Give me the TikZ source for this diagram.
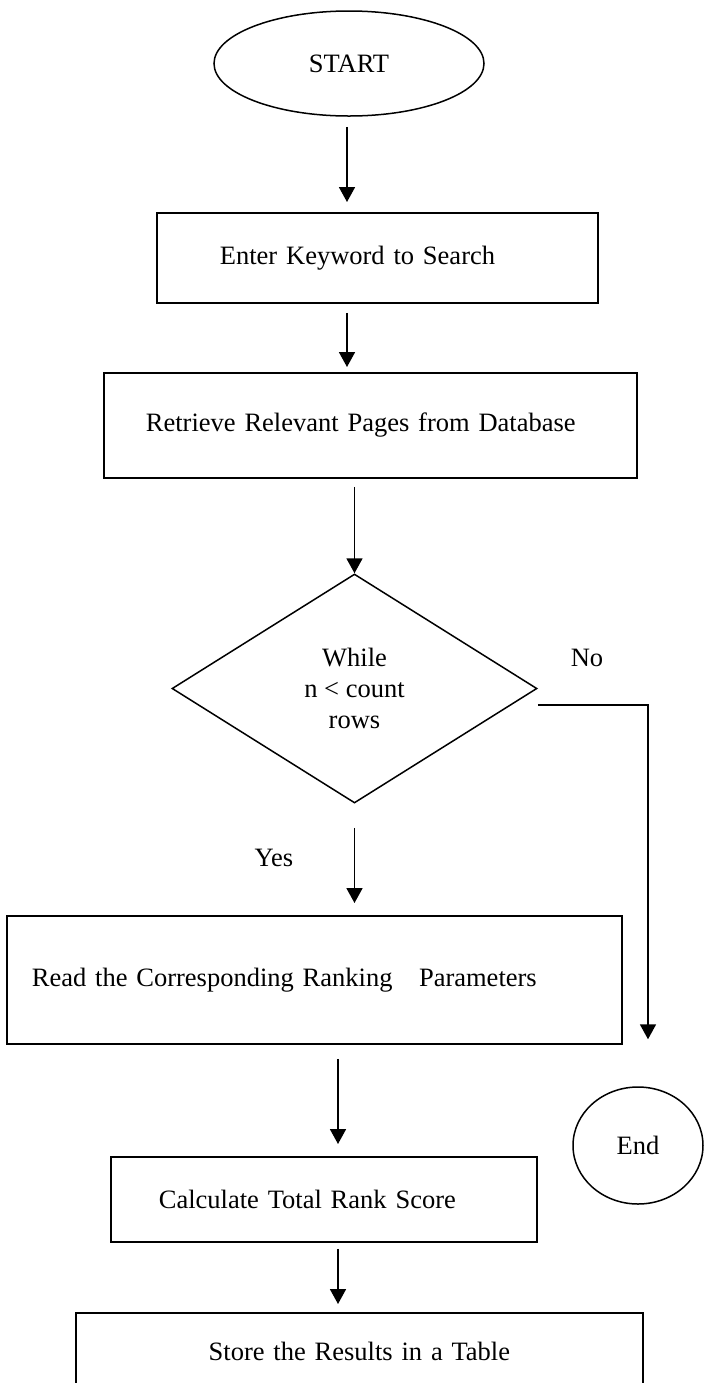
\documentclass[tikz,border=0pt]{standalone}
\usepackage{fontspec}
\setmainfont{Liberation Serif}
\usetikzlibrary{arrows.meta,shapes.geometric}

\begin{document}
\begin{tikzpicture}[
  x=0.5pt, y=-0.5pt,
  every node/.style={font=\fontsize{13.25}{15.5}\selectfont},
  stepbox/.style={draw, line width=0.9pt, anchor=north west, align=left,
                  inner ysep=0pt},
  terminal/.style={draw, ellipse, line width=0.75pt, inner sep=0pt},
  decision/.style={draw, diamond, line width=0.75pt, inner sep=0pt,
                   align=center},
  flow/.style={-{Triangle[length=7.5pt,width=8pt]}, line width=0.9pt}
]
  \useasboundingbox (0,0) rectangle (703,1383);

  % Start
  \node[terminal, minimum width=135pt, minimum height=52.5pt] (start)
    at (349,63.5) {START};

  % Enter keyword
  \node[stepbox, text width=157.5pt, inner xsep=31.5pt,
        minimum height=45pt] (enter) at (156,212)
    {Enter Keyword to Search};

  % Retrieve pages
  \node[stepbox, text width=224.5pt, inner xsep=21pt,
        minimum height=52.5pt] (retrieve) at (103,372)
    {Retrieve Relevant Pages from Database};

  % Loop test
  \node[decision, minimum width=182.5pt, minimum height=114.5pt,
        aspect=1.6] (test) at (354.5,688.5)
    {While\\ n < count\\ rows};
  \node (no) at (587,658) {No};
  \node (yes) at (274,858) {Yes};

  % Read parameters
  \node[stepbox, text width=282.5pt, inner xsep=12.5pt,
        minimum height=64pt] (read) at (6,915)
    {Read the Corresponding Ranking\ \ \ Parameters};

  % Rank score
  \node[stepbox, text width=165pt, inner xsep=24pt,
        minimum height=42.5pt] (calc) at (110,1156)
    {Calculate Total Rank Score};

  % Store results
  \node[stepbox, text width=263.5pt, inner xsep=10pt, align=center,
        minimum height=39pt] (store) at (75,1312)
    {Store the Results in a Table};

  % End
  \node[terminal, minimum width=65pt, minimum height=58.5pt] (end)
    at (638,1145.5) {End};

  % Connectors
  \coordinate (spine) at (347,0);
  \coordinate (lower) at (338,0);
  \coordinate (noturn) at (648,705);
  \draw[flow, shorten <=5pt, shorten >=5pt] (spine |- start.south)
    -- (spine |- enter.north);
  \draw[flow, shorten <=4.5pt, shorten >=2.5pt] (spine |- enter.south)
    -- (spine |- retrieve.north);
  \draw[flow, shorten <=4pt] (test.north |- retrieve.south) -- (test.north);
  \draw[flow, shorten <=12pt, shorten >=6pt] (test.south)
    -- (test.south |- read.north);
  \draw[flow, shorten >=23.5pt] (test.east |- noturn) -| (noturn |- end.north);
  \draw[flow, shorten <=7pt, shorten >=6pt] (lower |- read.south)
    -- (lower |- calc.north);
  \draw[flow, shorten <=3pt, shorten >=4pt] (lower |- calc.south)
    -- (lower |- store.north);
\end{tikzpicture}
\end{document}
